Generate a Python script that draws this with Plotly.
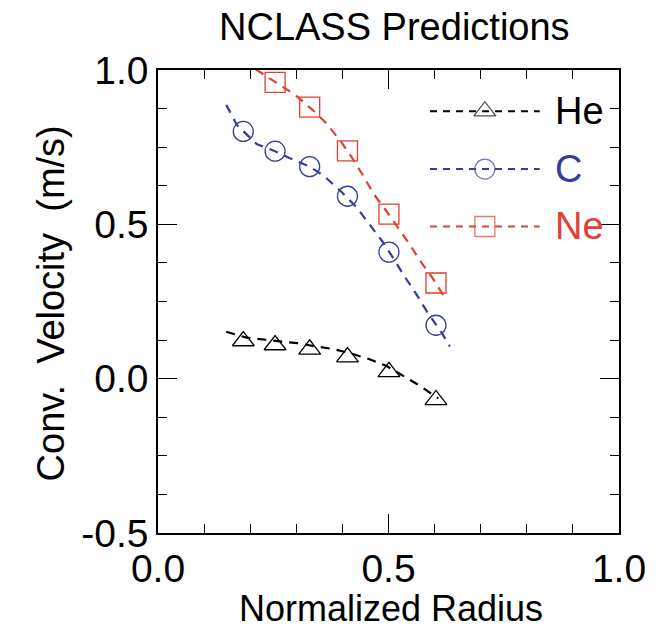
import plotly.graph_objects as go

# NCLASS convective velocity predictions vs normalized radius
radius = [0.185, 0.254, 0.329, 0.411, 0.501, 0.603]
he_vel = [0.122, 0.109, 0.095, 0.070, 0.022, -0.069]
c_vel = [0.801, 0.737, 0.687, 0.591, 0.410, 0.173]
ne_radius = [0.254, 0.329, 0.411, 0.501, 0.603]
ne_vel = [0.960, 0.880, 0.738, 0.533, 0.310]

# smooth fit curves through each species
he_fit_r = [0.148, 0.192, 0.234, 0.271, 0.302, 0.344, 0.380, 0.418, 0.459, 0.496, 0.527, 0.568, 0.608]
he_fit_v = [0.152, 0.133, 0.126, 0.120, 0.115, 0.104, 0.096, 0.082, 0.063, 0.041, 0.013, -0.023, -0.064]
c_fit_r = [0.148, 0.171, 0.214, 0.254, 0.285, 0.329, 0.360, 0.394, 0.431, 0.459, 0.486, 0.514, 0.533, 0.559, 0.584, 0.615, 0.633]
c_fit_v = [0.887, 0.822, 0.760, 0.737, 0.715, 0.687, 0.657, 0.611, 0.555, 0.501, 0.446, 0.382, 0.335, 0.277, 0.216, 0.150, 0.104]
ne_fit_r = [0.212, 0.255, 0.297, 0.335, 0.364, 0.397, 0.420, 0.444, 0.468, 0.495, 0.520, 0.545, 0.571, 0.596, 0.624]
ne_fit_v = [1.002, 0.960, 0.920, 0.871, 0.829, 0.768, 0.718, 0.660, 0.598, 0.544, 0.491, 0.437, 0.377, 0.325, 0.258]

species = ["He", "C", "Ne"]
x_ticks = [0.0, 0.5, 1.0]
x_tick_text = ["0.0", "0.5", "1.0"]
y_ticks = [-0.5, 0.0, 0.5, 1.0]
y_tick_text = ["-0.5", "0.0", "0.5", "1.0"]

BLACK = "#000000"
BLUE = "#363c9c"
RED = "#e0402f"
CURVE_DASH = "9px,7px"
KEY_DASH = "7px,6px"
FONT = "Liberation Sans, Arial, sans-serif"

styles = {
    "He": dict(color=BLACK, symbol="triangle-up-open", size=19),
    "C": dict(color=BLUE, symbol="circle-open", size=20),
    "Ne": dict(color=RED, symbol="square-open", size=20),
}
points = {"He": (radius, he_vel), "C": (radius, c_vel), "Ne": (ne_radius, ne_vel)}
fits = {"He": (he_fit_r, he_fit_v), "C": (c_fit_r, c_fit_v), "Ne": (ne_fit_r, ne_fit_v)}

fig = go.Figure()

for name in species:
    st = styles[name]
    fx, fy = fits[name]
    fig.add_trace(go.Scatter(
        x=fx, y=fy, mode="lines", showlegend=False, hoverinfo="skip",
        line=dict(color=st["color"], width=2.2, dash=CURVE_DASH),
    ))
    px, py = points[name]
    fig.add_trace(go.Scatter(
        x=px, y=py, mode="markers", name=name, showlegend=False,
        marker=dict(symbol=st["symbol"], size=st["size"], color=st["color"],
                    line=dict(color=st["color"], width=1.3)),
    ))

# hand-drawn key: long dashed sample with the symbol in its middle
key_x = [0.590, 0.709, 0.828]
key_y = {"He": 0.911, "C": 0.786, "Ne": 0.662}
key_label_x = 0.856
for name in species:
    st = styles[name]
    yk = key_y[name]
    fig.add_trace(go.Scatter(
        x=key_x, y=[yk] * 3, xaxis="x2", yaxis="y2", mode="lines+markers",
        showlegend=False, hoverinfo="skip",
        line=dict(color=st["color"], width=2, dash=KEY_DASH),
        marker=dict(symbol=st["symbol"], size=[0, st["size"], 0], color=st["color"],
                    line=dict(color=st["color"], width=1.3)),
    ))
    fig.add_annotation(
        x=key_label_x, y=yk, xref="paper", yref="paper", text=name,
        showarrow=False, xanchor="left", yanchor="middle",
        font=dict(family=FONT, size=38, color=st["color"]),
    )

axis_common = dict(
    showline=True, linecolor="black", linewidth=1.5, mirror="ticks",
    ticks="inside", ticklen=19, tickwidth=1.2, tickcolor="black",
    showgrid=False, zeroline=False, fixedrange=True,
    tickfont=dict(family=FONT, size=39, color="black"),
)

fig.update_layout(
    width=658, height=634,
    margin=dict(l=158, r=39, t=70, b=101),
    paper_bgcolor="white", plot_bgcolor="white",
    xaxis=dict(range=[0, 1], tickvals=x_ticks, ticktext=x_tick_text, ticklabelstandoff=0,
               minor=dict(dtick=0.1, ticks="inside", ticklen=9, tickwidth=1.2, tickcolor="black"),
               **axis_common),
    yaxis=dict(range=[-0.5, 1.0], tickvals=y_ticks, ticktext=y_tick_text, ticklabelstandoff=0,
               minor=dict(dtick=0.125, ticks="inside", ticklen=9, tickwidth=1.2, tickcolor="black"),
               **axis_common),
    xaxis2=dict(range=[0, 1], overlaying="x", visible=False, fixedrange=True),
    yaxis2=dict(range=[0, 1], overlaying="y", visible=False, fixedrange=True),
    showlegend=False,
)

fig.add_annotation(x=0.514, y=1.093, xref="paper", yref="paper", text="NCLASS Predictions",
                   showarrow=False, xanchor="center", yanchor="middle",
                   font=dict(family=FONT, size=38, color="black"))
fig.add_annotation(x=0.505, y=-0.162, xref="paper", yref="paper", text="Normalized Radius",
                   showarrow=False, xanchor="center", yanchor="middle",
                   font=dict(family=FONT, size=36, color="black"))
fig.add_annotation(x=-0.232, y=0.496, xref="paper", yref="paper", text="Conv.  Velocity  (m/s)",
                   showarrow=False, xanchor="center", yanchor="middle", textangle=-90,
                   font=dict(family=FONT, size=38, color="black"))

fig.write_html("out.html")
